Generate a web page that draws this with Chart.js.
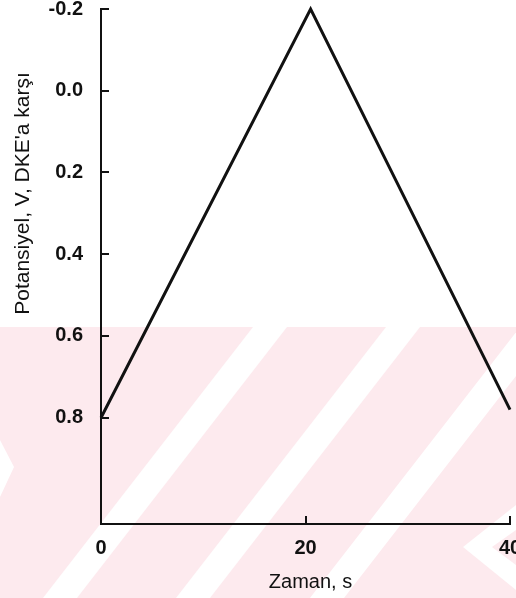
<!DOCTYPE html>
<html>
<head>
<meta charset="utf-8">
<script src="https://cdn.jsdelivr.net/npm/chart.js@4.4.1/dist/chart.umd.min.js"></script>
<style>
  html, body { margin: 0; padding: 0; background: #fff; }
  #wrap { width: 516px; height: 598px; }
</style>
</head>
<body>
<div id="wrap"><canvas id="cv" width="516" height="598"></canvas></div>
<script>
// Triangular potential sweep (y axis reversed: -0.2 at the top)
const timeS = [0, 20.5, 40];
const potentialV = [0.8, -0.2, 0.78];
const xTicks = [0, 20, 40];
const yTicks = [-0.2, 0.0, 0.2, 0.4, 0.6, 0.8];
const xTitle = 'Zaman, s';
const yTitle = "Potansiyel, V, DKE'a karşı";

const INK = '#111';
const tickFont = { family: '"Liberation Sans Narrow", "Liberation Sans", sans-serif', size: 20, weight: 'bold' };

// faint pink watermark with diagonal white bands behind the plot
const watermark = {
  id: 'watermark',
  beforeDraw(chart) {
    const { ctx, width: W, height: H } = chart;
    const top = 327;
    ctx.save();
    ctx.beginPath();
    ctx.rect(0, top, W, H - top);
    ctx.clip();
    ctx.fillStyle = '#fdeaee';
    ctx.fillRect(0, top, W, H - top);
    ctx.fillStyle = '#fff';
    const k = -0.775, hw = 17, drop = (H - top) * k;
    [270, 403, 537].forEach(cx => {
      ctx.beginPath();
      ctx.moveTo(cx - hw, top);
      ctx.lineTo(cx + hw, top);
      ctx.lineTo(cx + hw + drop, H);
      ctx.lineTo(cx - hw + drop, H);
      ctx.closePath();
      ctx.fill();
    });
    // left wedge
    ctx.beginPath();
    ctx.moveTo(0, 440); ctx.lineTo(14, 467); ctx.lineTo(0, 497);
    ctx.closePath(); ctx.fill();
    // bottom-right chevron
    ctx.beginPath();
    ctx.moveTo(463, 547); ctx.lineTo(516, 505); ctx.lineTo(516, 530);
    ctx.lineTo(492, 547); ctx.lineTo(516, 565); ctx.lineTo(516, 590);
    ctx.closePath(); ctx.fill();
    ctx.restore();
  },
};

// inward tick marks + axis titles
const axisDeco = {
  id: 'axisDeco',
  afterDraw(chart) {
    const { ctx, chartArea: a, scales } = chart;
    ctx.save();
    ctx.strokeStyle = INK;
    ctx.lineWidth = 2;
    ctx.beginPath();
    yTicks.forEach(v => {
      const y = Math.round(scales.y.getPixelForValue(v));
      ctx.moveTo(a.left, y);
      ctx.lineTo(a.left + 8, y);
    });
    xTicks.slice(1).forEach(v => {
      const x = Math.round(scales.x.getPixelForValue(v));
      ctx.moveTo(x, a.bottom);
      ctx.lineTo(x, a.bottom - 8);
    });
    ctx.stroke();

    ctx.fillStyle = INK;
    ctx.font = '20px "Liberation Sans", Arial, sans-serif';
    ctx.textAlign = 'center';
    ctx.textBaseline = 'alphabetic';
    ctx.fillText(xTitle, 310.5, 588);

    ctx.font = '21px "Liberation Sans", Arial, sans-serif';
    ctx.translate(28.5, 193.5);
    ctx.rotate(-Math.PI / 2);
    ctx.fillText(yTitle, 0, 0);
    ctx.restore();
  },
};

new Chart(document.getElementById('cv'), {
  type: 'line',
  data: {
    datasets: [{
      data: timeS.map((t, i) => ({ x: t, y: potentialV[i] })),
      borderColor: INK,
      borderWidth: 3,
      pointRadius: 0,
      tension: 0,
      fill: false,
      clip: false,
    }],
  },
  options: {
    responsive: false,
    animation: false,
    devicePixelRatio: 1,
    layout: { padding: 0 },
    plugins: { legend: { display: false }, tooltip: { enabled: false } },
    scales: {
      x: {
        type: 'linear',
        min: 0,
        max: 40,
        afterBuildTicks: s => { s.ticks = xTicks.map(v => ({ value: v })); },
        afterFit: s => { s.height = 74; s.paddingRight = 6; s.paddingLeft = 0; },
        grid: { display: false, drawTicks: false },
        border: { display: true, color: INK, width: 2 },
        ticks: {
          color: INK,
          font: tickFont,
          padding: 12,
          maxRotation: 0,
          callback: v => String(v),
        },
      },
      y: {
        type: 'linear',
        reverse: true,
        min: -0.2,
        max: 1.06,
        afterBuildTicks: s => { s.ticks = yTicks.map(v => ({ value: v })); },
        afterFit: s => { s.width = 101; s.paddingTop = 9; s.paddingBottom = 0; },
        grid: { display: false, drawTicks: false },
        border: { display: true, color: INK, width: 2 },
        ticks: {
          color: INK,
          font: tickFont,
          padding: 18,
          callback: v => v.toFixed(1),
        },
      },
    },
  },
  plugins: [watermark, axisDeco],
});
</script>
</body>
</html>
